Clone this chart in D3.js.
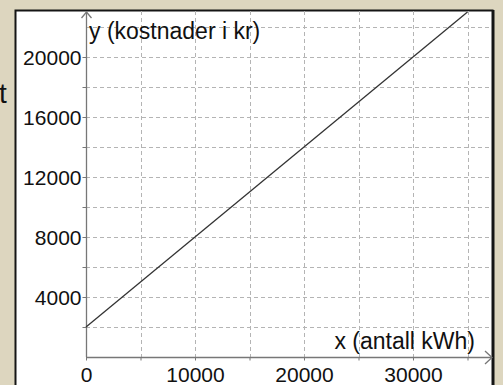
<!DOCTYPE html>
<html>
<head>
<meta charset="utf-8">
<script src="https://cdn.jsdelivr.net/npm/d3@7"></script>
<style>
  html, body { margin: 0; padding: 0; background: #ddd6bf; overflow: hidden; }
  svg { display: block; }
  text { font-family: "Liberation Sans", Arial, sans-serif; fill: #111; }
</style>
</head>
<body>
<svg id="chart" width="503" height="385"></svg>
<script>
// Tick labels and grid positions
const xTickValues = [0, 10000, 20000, 30000];
const yTickValues = [4000, 8000, 12000, 16000, 20000];
const xGridValues = [5000, 10000, 15000, 20000, 25000, 30000, 35000];
const yGridValues = [2000, 4000, 6000, 8000, 10000, 12000, 14000, 16000, 18000, 20000, 22000];

// Cost line: y = 0.6x + 2000 (kWh -> kr)
const lineX = [0, 35000];
const lineY = [2000, 23000];

const xLabel = "x (antall kWh)";
const yLabel = "y (kostnader i kr)";

const svg = d3.select("#chart");

const x = d3.scaleLinear().domain([0, 10000]).range([86, 195]);
const y = d3.scaleLinear().domain([0, 20000]).range([357, 57]);

// stray letter from neighbouring text on the page
svg.append("text").attr("x", -1).attr("y", 103)
  .style("font-size", "28px").text("t");

// white panel with dark frame
svg.append("rect")
  .attr("x", 15.5).attr("y", 10.5).attr("width", 477).attr("height", 400)
  .attr("fill", "#fff").attr("stroke", "#151515").attr("stroke-width", 2);
svg.append("line").attr("x1", 493.5).attr("x2", 493.5).attr("y1", 10).attr("y2", 385)
  .attr("stroke", "#151515").attr("stroke-width", 2);

svg.append("defs").append("clipPath").attr("id", "plotclip")
  .append("rect").attr("x", 17).attr("y", 12).attr("width", 475).attr("height", 380);

const x0 = x(0), y0 = y(0);
const xEnd = 492, yTop = 12;

// dashed grid
const grid = svg.append("g").attr("stroke", "#b4b4b4").attr("stroke-width", 1)
  .attr("stroke-dasharray", "4,3");
grid.selectAll("line.h").data(yGridValues).join("line").attr("class", "h")
  .attr("x1", x0).attr("x2", xEnd)
  .attr("y1", d => Math.round(y(d)) + 0.5).attr("y2", d => Math.round(y(d)) + 0.5);
grid.selectAll("line.v").data(xGridValues).join("line").attr("class", "v")
  .attr("y1", 11).attr("y2", y0)
  .attr("x1", d => Math.round(x(d)) + 0.5).attr("x2", d => Math.round(x(d)) + 0.5);

// axes with minor ticks, labels only on major values
const yAxis = d3.axisLeft(y).tickValues(yGridValues.slice(0, 10)).tickSize(4).tickPadding(1)
  .tickFormat(d => yTickValues.includes(d) ? d : "");
const xAxis = d3.axisBottom(x).tickValues([0].concat(xGridValues)).tickSize(3).tickPadding(7)
  .tickFormat(d => xTickValues.includes(d) ? d : "");

const gy = svg.append("g").attr("transform", `translate(${x0 + 0.5},0)`).call(yAxis);
const gx = svg.append("g").attr("transform", `translate(0,${y0 + 0.5})`).call(xAxis);
[gx, gy].forEach(g => {
  g.select(".domain").remove();
  g.selectAll(".tick line").attr("stroke", "#777");
  g.selectAll(".tick text").style("font-size", "21px").attr("fill", "#111")
    .style("font-family", "\"Liberation Sans\", Arial, sans-serif");
});
gy.selectAll(".tick text").attr("dy", "0.36em");

// axis lines with open arrowheads
const ax = svg.append("g").attr("stroke", "#777").attr("stroke-width", 1.3).attr("fill", "none");
ax.append("line").attr("x1", x0 + 0.5).attr("x2", x0 + 0.5).attr("y1", y0).attr("y2", yTop);
ax.append("line").attr("x1", x0).attr("x2", xEnd).attr("y1", y0 + 0.5).attr("y2", y0 + 0.5);
ax.append("path").attr("d", `M${x0 - 4.5},${yTop + 6} L${x0 + 0.5},${yTop} L${x0 + 5.5},${yTop + 6}`);
ax.append("path").attr("d", `M${xEnd - 7},${y0 - 6} L${xEnd},${y0 + 0.5} L${xEnd - 7},${y0 + 7}`);

// cost line
const pts = lineX.map((v, i) => [v, lineY[i]]);
svg.append("path").datum(pts)
  .attr("clip-path", "url(#plotclip)")
  .attr("fill", "none").attr("stroke", "#333").attr("stroke-width", 1.3)
  .attr("d", d3.line().x(d => x(d[0])).y(d => y(d[1])));

// axis titles
svg.append("text").attr("x", 89).attr("y", 38.5).style("font-size", "23px").text(yLabel);
svg.append("text").attr("x", 475).attr("y", 349).attr("text-anchor", "end")
  .style("font-size", "23px").text(xLabel);
</script>
</body>
</html>
